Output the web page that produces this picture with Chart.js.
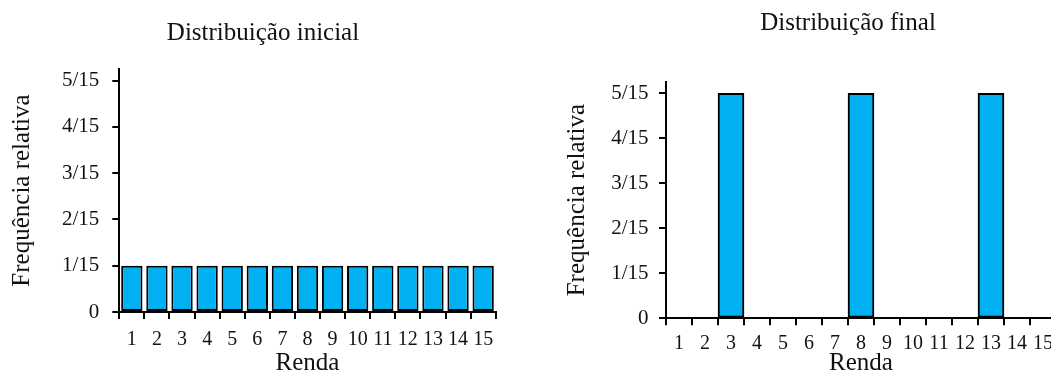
<!DOCTYPE html>
<html>
<head>
<meta charset="utf-8">
<script src="https://cdn.jsdelivr.net/npm/chart.js@4/dist/chart.umd.min.js"></script>
<style>
  html, body { margin: 0; padding: 0; background: #fff; overflow: hidden; }
  body { width: 1051px; height: 376px; position: relative; }
  canvas { position: absolute; top: 0; }
  #chartIni { left: 0; }
  #chartFin { left: 540px; }
</style>
</head>
<body>
<canvas id="chartIni" width="526" height="376"></canvas>
<canvas id="chartFin" width="616" height="376"></canvas>
<script>
// rendas (categorias)
var rendas = ['1','2','3','4','5','6','7','8','9','10','11','12','13','14','15'];
// frequencia relativa em quinze avos
var freqInicial = [1,1,1,1,1,1,1,1,1,1,1,1,1,1,1];
var freqFinal = [0,0,5,0,0,0,0,5,0,0,0,0,5,0,0];
var yTickLabels = ['0','1/15','2/15','3/15','4/15','5/15'];

var fonte = 'Liberation Serif';
var corTexto = '#111';
var azul = '#00B0F0';

function makeChart(id, titulo, dados, cfg) {
  var ctx = document.getElementById(id).getContext('2d');
  return new Chart(ctx, {
    type: 'bar',
    data: {
      labels: rendas,
      datasets: [{
        data: dados,
        backgroundColor: azul,
        borderColor: '#000',
        borderWidth: 2,
        borderSkipped: false,
        barPercentage: cfg.barPct,
        categoryPercentage: 1
      }]
    },
    options: {
      responsive: false,
      animation: false,
      layout: { padding: 0 },
      plugins: {
        legend: { display: false },
        tooltip: { enabled: false },
        title: {
          display: true,
          text: titulo,
          color: corTexto,
          font: { family: fonte, size: 25, weight: 'normal', lineHeight: 1.2 },
          padding: { top: cfg.titleTop, bottom: cfg.titleBottom }
        }
      },
      scales: {
        x: {
          grid: { drawOnChartArea: false, drawTicks: true, tickLength: 7, color: '#000', lineWidth: 2 },
          border: { color: '#000', width: 2 },
          ticks: { color: corTexto, font: { family: fonte, size: 20 }, padding: cfg.xPad, maxRotation: 0, autoSkip: false },
          title: { display: true, text: 'Renda', color: corTexto, font: { family: fonte, size: 25, lineHeight: 1 }, padding: 0 },
          afterFit: function(s) { s.height = cfg.xHeight; }
        },
        y: {
          min: 0,
          max: 5.25,
          grid: { drawOnChartArea: false, drawTicks: true, tickLength: 7, color: '#000', lineWidth: 2 },
          border: { color: '#000', width: 2 },
          ticks: {
            color: corTexto,
            font: { family: fonte, size: 21 },
            padding: cfg.yPad,
            callback: function(v) { return yTickLabels[v]; }
          },
          afterBuildTicks: function(s) {
            s.ticks = yTickLabels.map(function(_, i) { return { value: i }; });
          },
          title: { display: true, text: 'Frequência relativa', color: corTexto, font: { family: fonte, size: 25, lineHeight: 1.2 }, padding: { top: cfg.yTitlePad, bottom: 0 } },
          afterFit: function(s) { s.width = cfg.yWidth; }
        },
        // espaco vazio a direita
        pad: {
          type: 'linear',
          position: 'right',
          grid: { display: false },
          border: { display: false },
          ticks: { display: false },
          afterFit: function(s) { s.width = cfg.padRight; }
        }
      }
    }
  });
}

makeChart('chartIni', 'Distribuição inicial', freqInicial, {
  barPct: 0.85, titleTop: 18, titleBottom: 21,
  xHeight: 64, xPad: 9, yWidth: 119.3, yPad: 13, yTitlePad: 7, padRight: 30.3
});

makeChart('chartFin', 'Distribuição final', freqFinal, {
  barPct: 1, titleTop: 8, titleBottom: 44,
  xHeight: 57.7, xPad: 6, yWidth: 126, yPad: 10.5, yTitlePad: 22, padRight: 100
});
</script>
</body>
</html>
